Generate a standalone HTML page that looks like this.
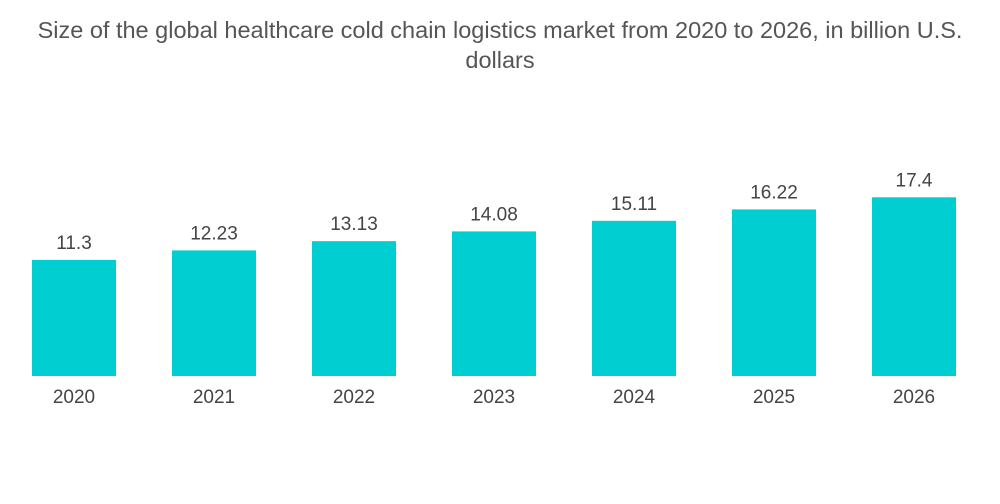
<!DOCTYPE html>
<html><head><meta charset="utf-8"><style>
body{margin:0;background:#fff;width:1000px;height:504px;overflow:hidden;font-family:"Liberation Sans",sans-serif}
#title{position:absolute;left:0;top:15px;width:1000px;text-align:center;font-size:23.5px;line-height:30px;color:#555}
svg{position:absolute;left:0;top:0}
</style></head><body>
<div id="title">Size of the global healthcare cold chain logistics market from 2020 to 2026, in billion U.S.<br>dollars</div>
<svg id="chart" width="1000" height="504"></svg>
<script>
const categories=["2020","2021","2022","2023","2024","2025","2026"];
const values=[11.3,12.23,13.13,14.08,15.11,16.22,17.4];
const labels=["11.3","12.23","13.13","14.08","15.11","16.22","17.4"];
const svg=document.getElementById('chart');
const NS='http://www.w3.org/2000/svg';
const baseY=376, scale=10.27, x0=74, step=140, bw=84;
const xPos=i=>x0+i*step;
const yPos=v=>baseY-v*scale;
categories.forEach((c,i)=>{
  const r=document.createElementNS(NS,'rect');
  r.setAttribute('x',xPos(i)-bw/2);r.setAttribute('y',yPos(values[i]));
  r.setAttribute('width',bw);r.setAttribute('height',baseY-yPos(values[i]));
  r.setAttribute('fill','#00CED1');
  
  
  svg.appendChild(r);
  const t=document.createElementNS(NS,'text');
  t.setAttribute('x',xPos(i));t.setAttribute('y',yPos(values[i])-11);
  t.setAttribute('text-anchor','middle');t.setAttribute('font-size','19');t.setAttribute('fill','#444');
  t.setAttribute('font-family','Liberation Sans, sans-serif');
  t.textContent=labels[i];
  
  
  svg.appendChild(t);
  const a=document.createElementNS(NS,'text');
  a.setAttribute('x',xPos(i));a.setAttribute('y',403);
  a.setAttribute('text-anchor','middle');a.setAttribute('font-size','19');a.setAttribute('fill','#444');
  a.setAttribute('font-family','Liberation Sans, sans-serif');
  a.textContent=c;
  
  
  svg.appendChild(a);
});
</script>
</body></html>
